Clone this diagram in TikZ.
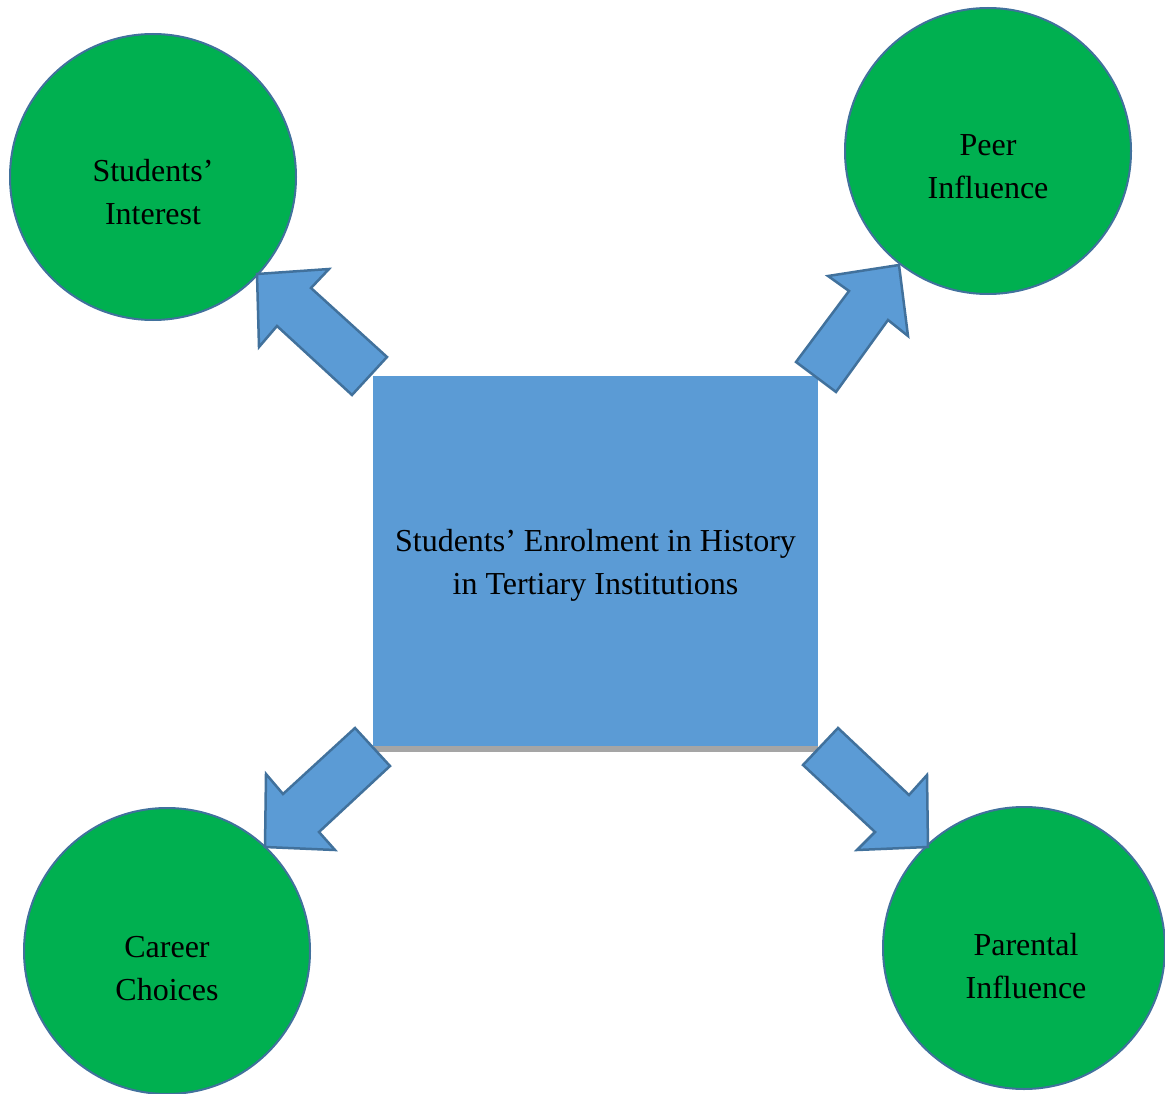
\documentclass[tikz,border=0pt]{standalone}
\usepackage{fontspec}
\setmainfont{Liberation Serif}
\definecolor{boxblue}{HTML}{5B9BD5}
\definecolor{edgeblue}{HTML}{41719C}
\definecolor{factorgreen}{HTML}{00B050}
\definecolor{shadowgray}{HTML}{A5A5A5}
\begin{document}
\begin{tikzpicture}[x=1pt,y=-1pt,
  factor/.style={circle,draw=edgeblue,line width=2pt,fill=factorgreen,
    minimum size=286pt,inner sep=0pt},
  label text/.style={align=center,anchor=base,inner sep=0pt,
    font=\fontsize{32}{43}\selectfont},
  block arrow/.style={fill=boxblue,draw=edgeblue,line width=2.5pt,line join=miter}]
\useasboundingbox (0,0) rectangle (1165,1094);

% central box with its grey lower edge
\fill[shadowgray] (374,744) rectangle (818,751.5);
\node[fill=boxblue,inner sep=0pt,minimum width=445pt,minimum height=370pt]
  (enrol) at (595.5,561) {};
% text anchors sit on the baseline of the last line
\node[label text] (enroltext) at (595.5,594)
  {Students’ Enrolment in History\\in Tertiary Institutions};

% factor circles
\node[factor] (interest) at (153,177) {};
\node[factor] (peer) at (988,151) {};
\node[factor] (career) at (167,951) {};
\node[factor,minimum size=282pt] (parental) at (1024,948) {};

\node[label text] (interesttext) at (153,225) {Students’\\Interest};
\node[label text] (peertext) at (988,199) {Peer\\Influence};
\node[label text] (careertext) at (167,1000) {Career\\Choices};
\node[label text] (parentaltext) at (1026,998) {Parental\\Influence};

% block arrows from the box to the circles
\draw[block arrow] (257,274) -- (329,269) -- (311,288) -- (387,357)
  -- (352,395) -- (277,326) -- (259,347) -- cycle;
\draw[block arrow] (899,265) -- (908,336) -- (888,320) -- (836,392)
  -- (796,362) -- (849,291) -- (828,276) -- cycle;
\draw[block arrow] (265,847) -- (335,850) -- (319,832) -- (390,766)
  -- (355,728) -- (283,794) -- (266,774) -- cycle;
\draw[block arrow] (928,847) -- (927,775) -- (909,795) -- (838,728)
  -- (803,765) -- (875,832) -- (857,850) -- cycle;
\end{tikzpicture}
\end{document}
